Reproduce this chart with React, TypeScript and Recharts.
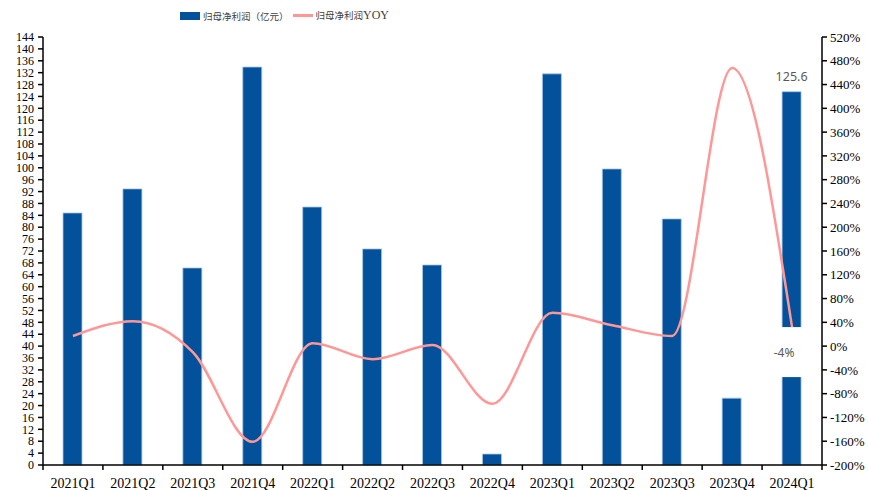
import { ComposedChart, Bar, Line, XAxis, YAxis } from 'recharts';

const QUARTERS = [
  '2021Q1', '2021Q2', '2021Q3', '2021Q4',
  '2022Q1', '2022Q2', '2022Q3', '2022Q4',
  '2023Q1', '2023Q2', '2023Q3', '2023Q4',
  '2024Q1',
];
// 归母净利润（亿元）
const PROFIT = [84.8, 92.9, 66.3, 133.9, 86.8, 72.7, 67.3, 3.7, 131.6, 99.6, 82.8, 22.5, 125.6];
// 归母净利润YOY (%)
const YOY = [17, 42, -10, -161, 5, -22, 2, -97, 56, 35, 17, 468, 32];
const YOY_LAST_LABEL = '-4%';

const LEFT_TICKS = Array.from({ length: 37 }, (_, i) => i * 4);
const RIGHT_TICKS = Array.from({ length: 19 }, (_, i) => -200 + i * 40);

const W = 869;
const H = 490;
const PLOT_LEFT = 43;
const PLOT_RIGHT = 822;
const BAND = (PLOT_RIGHT - PLOT_LEFT) / QUARTERS.length;

const BLUE = '#03519a';
const PINK = '#ff9797';
const SERIF = '"Liberation Serif", "Times New Roman", serif';
const CJK = '"Noto Sans CJK SC", sans-serif';

const data = QUARTERS.map((q, i) => ({ q, profit: PROFIT[i], yoy: YOY[i] }));

const XTick = (props: any) => {
  const { x, y, payload, index } = props;
  const last = index === QUARTERS.length - 1;
  return (
    <g>
      <line x1={x - BAND / 2} x2={x - BAND / 2} y1={y} y2={y + 5} stroke="#000" strokeWidth={1.5} />
      {last && <line x1={x + BAND / 2} x2={x + BAND / 2} y1={y} y2={y + 5} stroke="#000" strokeWidth={1.5} />}
      <text x={x} y={y + 23} textAnchor="middle" fontFamily={SERIF} fontSize={14} fill="#000">
        {payload.value}
      </text>
    </g>
  );
};

const ProfitLabel = (props: any) => {
  const { x, y, width, index, value } = props;
  if (index !== PROFIT.length - 1) return null;
  return (
    <text x={x + width / 2} y={y - 11} textAnchor="middle" fontFamily='"Noto Sans", sans-serif' fontSize={12.5} fill="#595959">
      {value}
    </text>
  );
};

const YoyLabel = (props: any) => {
  const { x, y, index } = props;
  if (index !== YOY.length - 1) return null;
  const cx = x - 8;
  return (
    <g>
      <rect x={cx - 24} y={y} width={50} height={50} fill="#fff" />
      <text x={cx} y={y + 30} textAnchor="middle" fontFamily='"Noto Sans", sans-serif' fontSize={12} fill="#595959">
        {YOY_LAST_LABEL}
      </text>
    </g>
  );
};

const Legend = () => (
  <div
    style={{
      position: 'absolute',
      left: 180,
      top: 8,
      display: 'flex',
      alignItems: 'center',
      fontFamily: CJK,
      fontSize: 9.5,
      color: '#404040',
      whiteSpace: 'nowrap',
    }}
  >
    <span style={{ display: 'inline-block', width: 20, height: 8, background: BLUE, marginRight: 3 }} />
    <span>归母净利润（亿元）</span>
    <span style={{ display: 'inline-block', width: 20, height: 2.5, background: PINK, margin: '0 3px 0 4px' }} />
    <span>
      归母净利润<span style={{ fontFamily: SERIF, fontSize: 12 }}>YOY</span>
    </span>
  </div>
);

export default function App() {
  return (
    <div style={{ position: 'absolute', left: 0, top: 0, width: W, height: H, background: '#fff' }}>
      <Legend />
      <ComposedChart width={W} height={H} data={data} margin={{ top: 37, right: 0, left: 0, bottom: 0 }} barSize={19}>
        <XAxis
          dataKey="q"
          height={25}
          interval={0}
          tickLine={false}
          tickSize={0}
          tickMargin={0}
          tick={<XTick />}
          axisLine={{ stroke: '#000', strokeWidth: 1.5 }}
        />
        <YAxis
          yAxisId="left"
          width={43}
          domain={[0, 144]}
          ticks={LEFT_TICKS}
          interval={0}
          tickSize={5}
          tickMargin={4}
          axisLine={{ stroke: '#000', strokeWidth: 1.5 }}
          tickLine={{ stroke: '#000', strokeWidth: 1.5 }}
          tick={{ fontFamily: SERIF, fontSize: 12, fill: '#000' }}
        />
        <YAxis
          yAxisId="right"
          orientation="right"
          width={47}
          domain={[-200, 520]}
          ticks={RIGHT_TICKS}
          interval={0}
          tickSize={5}
          tickMargin={3}
          tickFormatter={(v: number) => `${v}%`}
          axisLine={{ stroke: '#000', strokeWidth: 1.5 }}
          tickLine={{ stroke: '#000', strokeWidth: 1.5 }}
          tick={{ fontFamily: SERIF, fontSize: 13, fill: '#000' }}
        />
        <Bar
          yAxisId="left"
          dataKey="profit"
          fill={BLUE}
          stroke="#a9c8e8"
          strokeWidth={0.8}
          isAnimationActive={false}
          label={<ProfitLabel />}
        />
        <Line
          yAxisId="right"
          dataKey="yoy"
          type="monotone"
          stroke={PINK}
          strokeWidth={2.5}
          dot={false}
          activeDot={false}
          isAnimationActive={false}
          label={<YoyLabel />}
        />
      </ComposedChart>
    </div>
  );
}
